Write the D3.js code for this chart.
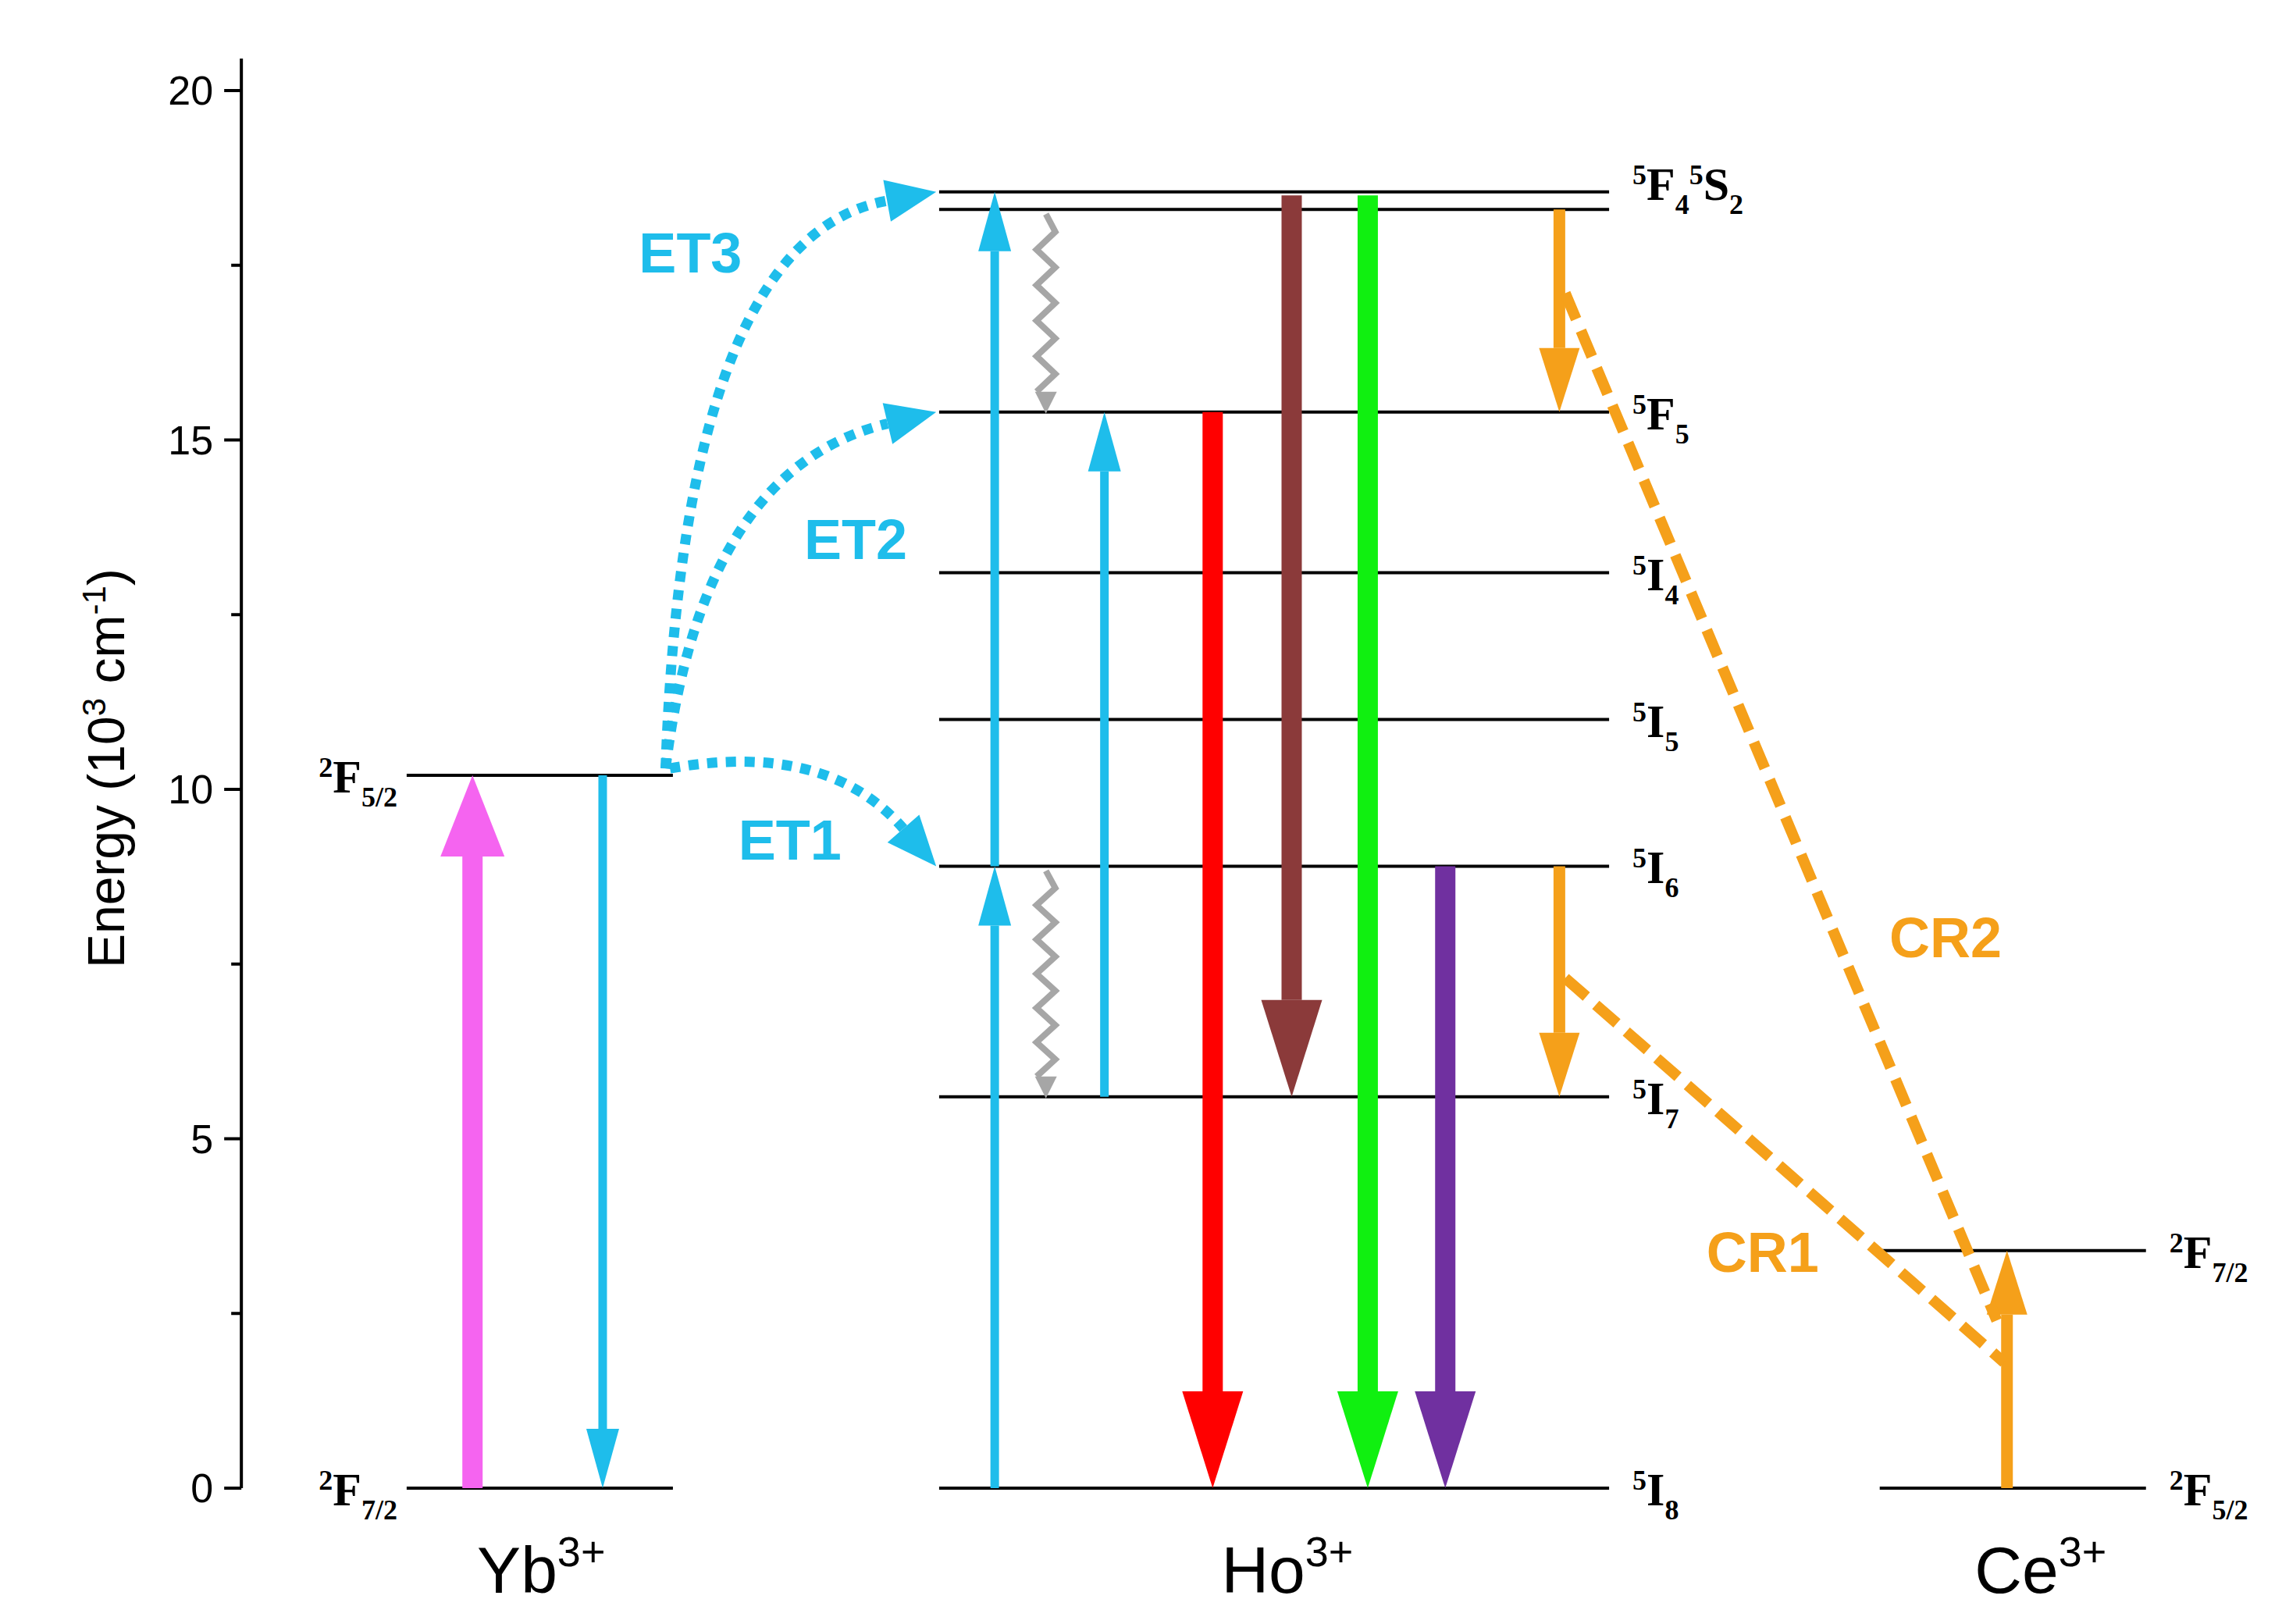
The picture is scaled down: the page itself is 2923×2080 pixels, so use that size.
<!DOCTYPE html>
<html><head><meta charset="utf-8">
<script src="https://cdn.jsdelivr.net/npm/d3@7"></script>
<style>body{margin:0;background:#fff}</style>
</head><body>
<svg id="chart" width="2923" height="2080"></svg>
<script>
// energy levels: ion, x-range (layout units), energy (10^3 cm-1), label parts
const levels = [
  {x0: 278, x1: 460, e: 0, lab: [['2','sup'],['F',''],['7/2','sub']], side: 'left'},
  {x0: 278, x1: 460, e: 10.2, lab: [['2','sup'],['F',''],['5/2','sub']], side: 'left'},
  {x0: 642, x1: 1100, e: 18.55, lab: [['5','sup'],['F',''],['4','sub'],['5','sup'],['S',''],['2','sub']], side: 'right'},
  {x0: 642, x1: 1100, e: 18.3, lab: null},
  {x0: 642, x1: 1100, e: 15.4, lab: [['5','sup'],['F',''],['5','sub']], side: 'right'},
  {x0: 642, x1: 1100, e: 13.1, lab: [['5','sup'],['I',''],['4','sub']], side: 'right'},
  {x0: 642, x1: 1100, e: 11.0, lab: [['5','sup'],['I',''],['5','sub']], side: 'right'},
  {x0: 642, x1: 1100, e: 8.9, lab: [['5','sup'],['I',''],['6','sub']], side: 'right'},
  {x0: 642, x1: 1100, e: 5.6, lab: [['5','sup'],['I',''],['7','sub']], side: 'right'},
  {x0: 642, x1: 1100, e: 0, lab: [['5','sup'],['I',''],['8','sub']], side: 'right'},
  {x0: 1285, x1: 1467, e: 3.4, lab: [['2','sup'],['F',''],['7/2','sub']], side: 'right'},
  {x0: 1285, x1: 1467, e: 0, lab: [['2','sup'],['F',''],['5/2','sub']], side: 'right'}
];
const ions = [{x: 370, name: 'Yb'}, {x: 880, name: 'Ho'}, {x: 1395, name: 'Ce'}];

// straight transitions: x, from, to, colour, kind
const arrows = [
  {x: 323, e0: 0, e1: 10.2, c: '#F564F0', k: 'fat'},
  {x: 412, e0: 10.2, e1: 0, c: '#1EBDEB', k: 'thin'},
  {x: 680, e0: 0, e1: 8.9, c: '#1EBDEB', k: 'thin'},
  {x: 680, e0: 8.9, e1: 18.55, c: '#1EBDEB', k: 'thin'},
  {x: 755, e0: 5.6, e1: 15.4, c: '#1EBDEB', k: 'thin'},
  {x: 829, e0: 15.4, e1: 0, c: '#FF0000', k: 'bold'},
  {x: 883, e0: 18.5, e1: 5.6, c: '#8B3A3A', k: 'bold'},
  {x: 935, e0: 18.5, e1: 0, c: '#10F010', k: 'bold'},
  {x: 988, e0: 8.9, e1: 0, c: '#7030A0', k: 'bold'},
  {x: 1066, e0: 18.3, e1: 15.4, c: '#F5A01A', k: 'mid'},
  {x: 1066, e0: 8.9, e1: 5.6, c: '#F5A01A', k: 'mid'},
  {x: 1372, e0: 0, e1: 3.4, c: '#F5A01A', k: 'mid'}
];
const relax = [{x: 715, e0: 18.3, e1: 15.4}, {x: 715, e0: 8.9, e1: 5.6}];

// energy transfer curves: start, control, end (x in layout units, energy)
const etCurves = [
  {name: 'ET1', p: [[458, 10.3], [565, 10.7], [640, 8.9]], lx: 540, le: 9.0},
  {name: 'ET2', p: [[455, 10.3], [480, 14.6], [640, 15.4]], lx: 585, le: 13.3},
  {name: 'ET3', p: [[455, 10.3], [468, 17.9], [640, 18.55]], lx: 472, le: 17.4}
];
const crLines = [
  {name: 'CR1', p: [[1070, 7.3], [1370, 1.8]], lx: 1205, le: 3.1},
  {name: 'CR2', p: [[1070, 17.1], [1365, 2.4]], lx: 1330, le: 7.6}
];

const yTicks = [0, 5, 10, 15, 20];
const yMinor = [2.5, 7.5, 12.5, 17.5];

const svg = d3.select('#chart');
const x = d3.scaleLinear().domain([0, 1560]).range([0, 2923]);
const y = d3.scaleLinear().domain([0, 20]).range([1906, 116]);

// axis
const axisX = x(165);
svg.append('line').attr('x1', axisX).attr('x2', axisX).attr('y1', 75).attr('y2', y(0))
  .attr('stroke', '#000').attr('stroke-width', 4);
yTicks.forEach(function(t) {
  svg.append('line').attr('x1', axisX - 22).attr('x2', axisX).attr('y1', y(t)).attr('y2', y(t))
    .attr('stroke', '#000').attr('stroke-width', 4);
  svg.append('text').attr('x', axisX - 36).attr('y', y(t) + 18).attr('text-anchor', 'end')
    .attr('font-family', 'Arial, Liberation Sans').attr('font-size', 52).text(t);
});
yMinor.forEach(function(t) {
  svg.append('line').attr('x1', axisX - 13).attr('x2', axisX).attr('y1', y(t)).attr('y2', y(t))
    .attr('stroke', '#000').attr('stroke-width', 4);
});
const yl = svg.append('text').attr('transform', 'translate(' + x(85) + ',' + y(10.3) + ') rotate(-90)')
  .attr('text-anchor', 'middle').attr('font-family', 'Arial, Liberation Sans').attr('font-size', 66);
yl.append('tspan').text('Energy (10');
yl.append('tspan').attr('dy', -24).attr('font-size', 42).text('3');
yl.append('tspan').attr('dy', 24).text(' cm');
yl.append('tspan').attr('dy', -24).attr('font-size', 42).text('-1');
yl.append('tspan').attr('dy', 24).text(')');

// levels
levels.forEach(function(l) {
  svg.append('line').attr('x1', x(l.x0)).attr('x2', x(l.x1)).attr('y1', y(l.e)).attr('y2', y(l.e))
    .attr('stroke', '#000').attr('stroke-width', 4);
  if (!l.lab) return;
  const t = svg.append('text').attr('font-family', 'Liberation Serif, Times New Roman')
    .attr('font-weight', 'bold').attr('font-size', 60)
    .attr('x', l.side === 'left' ? x(l.x0) - 12 : x(l.x1) + 30)
    .attr('y', y(l.e) + (l.e === 18.55 ? 10 : 22))
    .attr('text-anchor', l.side === 'left' ? 'end' : 'start');
  let cur = 0;
  l.lab.forEach(function(p) {
    const off = p[1] === 'sup' ? -20 : p[1] === 'sub' ? 18 : 0;
    t.append('tspan').attr('dy', off - cur).attr('font-size', p[1] ? 36 : 60).text(p[0]);
    cur = off;
  });
});

ions.forEach(function(d) {
  const t = svg.append('text').attr('x', x(d.x)).attr('y', 2040).attr('text-anchor', 'middle')
    .attr('font-family', 'Arial, Liberation Sans').attr('font-size', 84);
  t.append('tspan').text(d.name);
  t.append('tspan').attr('dy', -34).attr('font-size', 54).text('3+');
});

// arrows
const kinds = {
  fat: {w: 26, hw: 82, hl: 104},
  bold: {w: 26, hw: 78, hl: 124},
  thin: {w: 11, hw: 42, hl: 76},
  mid: {w: 15, hw: 52, hl: 82}
};
arrows.forEach(function(a) {
  const k = kinds[a.k];
  const cx = x(a.x), ys = y(a.e0), ye = y(a.e1);
  const dir = ye < ys ? -1 : 1;
  const base = ye - dir * k.hl;
  svg.append('line').attr('x1', cx).attr('x2', cx).attr('y1', ys).attr('y2', base)
    .attr('stroke', a.c).attr('stroke-width', k.w);
  svg.append('path').attr('fill', a.c)
    .attr('d', 'M' + (cx - k.hw / 2) + ',' + base + 'L' + (cx + k.hw / 2) + ',' + base + 'L' + cx + ',' + ye + 'Z');
});

// wavy non-radiative relaxation
relax.forEach(function(r) {
  const cx = x(r.x), ys = y(r.e0) + 6, ye = y(r.e1) - 26;
  const n = Math.round((ye - ys) / 22);
  const step = (ye - ys) / n;
  let d = 'M' + cx + ',' + ys;
  for (let i = 1; i <= n; i++) d += 'L' + (cx + (i % 2 ? 12 : -12)) + ',' + (ys + i * step);
  svg.append('path').attr('d', d).attr('fill', 'none').attr('stroke', '#A6A6A6').attr('stroke-width', 8);
  svg.append('path').attr('fill', '#A6A6A6')
    .attr('d', 'M' + (cx - 14) + ',' + ye + 'L' + (cx + 14) + ',' + ye + 'L' + cx + ',' + (ye + 28) + 'Z');
});

// ET curves
etCurves.forEach(function(c) {
  const p = c.p.map(function(q) { return [x(q[0]), y(q[1])]; });
  // shorten end for arrowhead
  const dx = p[2][0] - p[1][0], dy = p[2][1] - p[1][1], L = Math.hypot(dx, dy);
  const ux = dx / L, uy = dy / L, hl = 64, hw = 54;
  const bx = p[2][0] - ux * hl, by = p[2][1] - uy * hl;
  svg.append('path').attr('d', 'M' + p[0] + 'Q' + p[1] + ' ' + bx + ',' + by)
    .attr('fill', 'none').attr('stroke', '#1EBDEB').attr('stroke-width', 13).attr('stroke-dasharray', '13,11');
  svg.append('path').attr('fill', '#1EBDEB')
    .attr('d', 'M' + (bx - uy * hw / 2) + ',' + (by + ux * hw / 2) + 'L' + (bx + uy * hw / 2) + ',' + (by - ux * hw / 2) + 'L' + p[2] + 'Z');
  svg.append('text').attr('x', x(c.lx)).attr('y', y(c.le)).attr('text-anchor', 'middle')
    .attr('font-family', 'Arial, Liberation Sans').attr('font-weight', 'bold').attr('font-size', 72)
    .attr('fill', '#1EBDEB').text(c.name);
});

// cross-relaxation dashed lines
crLines.forEach(function(c) {
  svg.append('line').attr('x1', x(c.p[0][0])).attr('y1', y(c.p[0][1]))
    .attr('x2', x(c.p[1][0])).attr('y2', y(c.p[1][1]))
    .attr('stroke', '#F5A01A').attr('stroke-width', 14).attr('stroke-dasharray', '36,16');
  svg.append('text').attr('x', x(c.lx)).attr('y', y(c.le)).attr('text-anchor', 'middle')
    .attr('font-family', 'Arial, Liberation Sans').attr('font-weight', 'bold').attr('font-size', 72)
    .attr('fill', '#F5A01A').text(c.name);
});
</script>
</body></html>
